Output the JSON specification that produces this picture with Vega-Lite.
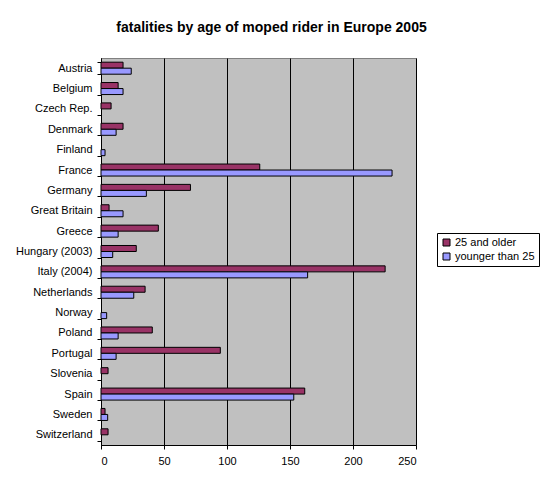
{
  "$schema": "https://vega.github.io/schema/vega-lite/v6.json",
  "autosize": "none",
  "width": 315,
  "height": 387,
  "padding": {"left": 101, "top": 58, "right": 129, "bottom": 42},
  "background": "white",
  "title": {
    "text": "fatalities by age of moped rider in Europe 2005",
    "font": "Liberation Sans",
    "fontSize": 14,
    "fontWeight": "bold",
    "color": "black",
    "anchor": "middle",
    "dx": 13,
    "offset": 17
  },
  "data": {
    "values": [
      {"country": "Austria", "group": "25 and older", "fatalities": 17.5},
      {"country": "Austria", "group": "younger than 25", "fatalities": 24},
      {"country": "Belgium", "group": "25 and older", "fatalities": 13.6},
      {"country": "Belgium", "group": "younger than 25", "fatalities": 17.5},
      {"country": "Czech Rep.", "group": "25 and older", "fatalities": 8},
      {"country": "Czech Rep.", "group": "younger than 25", "fatalities": 0},
      {"country": "Denmark", "group": "25 and older", "fatalities": 17.5},
      {"country": "Denmark", "group": "younger than 25", "fatalities": 12},
      {"country": "Finland", "group": "25 and older", "fatalities": 0},
      {"country": "Finland", "group": "younger than 25", "fatalities": 3.2},
      {"country": "France", "group": "25 and older", "fatalities": 126},
      {"country": "France", "group": "younger than 25", "fatalities": 231},
      {"country": "Germany", "group": "25 and older", "fatalities": 71},
      {"country": "Germany", "group": "younger than 25", "fatalities": 36},
      {"country": "Great Britain", "group": "25 and older", "fatalities": 6.4},
      {"country": "Great Britain", "group": "younger than 25", "fatalities": 17.5},
      {"country": "Greece", "group": "25 and older", "fatalities": 45.5},
      {"country": "Greece", "group": "younger than 25", "fatalities": 13.6},
      {"country": "Hungary (2003)", "group": "25 and older", "fatalities": 28},
      {"country": "Hungary (2003)", "group": "younger than 25", "fatalities": 9.3},
      {"country": "Italy (2004)", "group": "25 and older", "fatalities": 225.5},
      {"country": "Italy (2004)", "group": "younger than 25", "fatalities": 164},
      {"country": "Netherlands", "group": "25 and older", "fatalities": 35},
      {"country": "Netherlands", "group": "younger than 25", "fatalities": 26},
      {"country": "Norway", "group": "25 and older", "fatalities": 0},
      {"country": "Norway", "group": "younger than 25", "fatalities": 4.5},
      {"country": "Poland", "group": "25 and older", "fatalities": 40.7},
      {"country": "Poland", "group": "younger than 25", "fatalities": 13.6},
      {"country": "Portugal", "group": "25 and older", "fatalities": 94.7},
      {"country": "Portugal", "group": "younger than 25", "fatalities": 12},
      {"country": "Slovenia", "group": "25 and older", "fatalities": 5.6},
      {"country": "Slovenia", "group": "younger than 25", "fatalities": 0},
      {"country": "Spain", "group": "25 and older", "fatalities": 161.7},
      {"country": "Spain", "group": "younger than 25", "fatalities": 153},
      {"country": "Sweden", "group": "25 and older", "fatalities": 3.2},
      {"country": "Sweden", "group": "younger than 25", "fatalities": 5.3},
      {"country": "Switzerland", "group": "25 and older", "fatalities": 5.6},
      {"country": "Switzerland", "group": "younger than 25", "fatalities": 0}
    ]
  },
  "transform": [{"filter": "datum.fatalities > 0"}],
  "mark": {"type": "bar", "stroke": "black", "strokeWidth": 1, "cornerRadius": 0},
  "encoding": {
    "y": {
      "field": "country",
      "type": "nominal",
      "sort": null,
      "title": null,
      "scale": {"paddingInner": 0.41, "paddingOuter": 0.205},
      "axis": {
        "tickBand": "extent",
        "tickSize": 4,
        "tickColor": "black",
        "domainColor": "black",
        "labelFont": "Liberation Sans",
        "labelFontSize": 11,
        "labelColor": "black",
        "labelPadding": 5,
        "grid": false
      }
    },
    "yOffset": {
      "field": "group",
      "type": "nominal",
      "scale": {"paddingInner": 0, "paddingOuter": 0}
    },
    "x": {
      "field": "fatalities",
      "type": "quantitative",
      "title": null,
      "scale": {"domain": [0, 250], "nice": false},
      "axis": {
        "values": [0, 50, 100, 150, 200, 250],
        "grid": true,
        "gridColor": "black",
        "gridOpacity": 1,
        "gridWidth": 1,
        "tickSize": 4,
        "tickColor": "black",
        "domainColor": "black",
        "labelFont": "Liberation Sans",
        "labelFontSize": 11,
        "labelColor": "black",
        "labelPadding": 6
      }
    },
    "color": {
      "field": "group",
      "type": "nominal",
      "title": null,
      "scale": {"domain": ["25 and older", "younger than 25"], "range": ["#993366", "#9999FF"]},
      "legend": {
        "orient": "none",
        "legendX": 336,
        "legendY": 175,
        "symbolType": "square",
        "symbolSize": 49,
        "symbolStrokeColor": "black",
        "symbolStrokeWidth": 1,
        "labelFont": "Liberation Sans",
        "labelFontSize": 11,
        "labelColor": "black",
        "labelOffset": 3,
        "strokeColor": "black",
        "padding": 4,
        "rowPadding": 2,
        "fillColor": "white"
      }
    }
  },
  "config": {
    "view": {"fill": "#C0C0C0", "stroke": "#808080", "strokeWidth": 1},
    "axis": {"domainWidth": 1, "tickWidth": 1}
  }
}
